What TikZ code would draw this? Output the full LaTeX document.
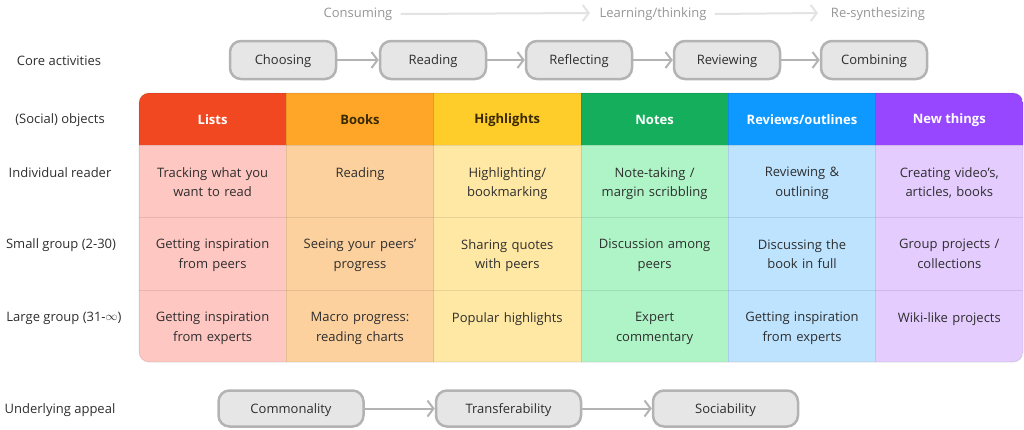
\documentclass[tikz,border=0pt]{standalone}
\usepackage{fontspec}
\setmainfont{Open Sans}
\usetikzlibrary{arrows.meta}
\definecolor{txt}{HTML}{2E2E2E}
\definecolor{toptxt}{HTML}{969696}
\definecolor{topline}{HTML}{E3E3E3}
\definecolor{boxfill}{HTML}{E6E6E6}
\definecolor{boxline}{HTML}{B3B3B3}
\definecolor{hA}{HTML}{F24822}\definecolor{bA}{HTML}{FFC7C2}
\definecolor{hB}{HTML}{FFA629}\definecolor{bB}{HTML}{FCD19E}
\definecolor{hC}{HTML}{FFCD29}\definecolor{bC}{HTML}{FFE8A3}
\definecolor{hD}{HTML}{14AE5C}\definecolor{bD}{HTML}{AFF4C6}
\definecolor{hE}{HTML}{0D99FF}\definecolor{bE}{HTML}{BDE3FF}
\definecolor{hF}{HTML}{9747FF}\definecolor{bF}{HTML}{E4CCFF}
\definecolor{darkhead}{HTML}{3A2A00}
\begin{document}
\begin{tikzpicture}[x=1pt,y=-1pt,
  every node/.style={font=\fontsize{13}{19.6}\selectfont, text=txt, inner sep=0pt},
  rowlabel/.style={anchor=center, yshift=-1pt},
  toplabel/.style={text=toptxt, yshift=-1pt},
  topflow/.style={draw=topline, line width=2pt, -{Straight Barb[length=6pt,width=16pt,line width=2pt]}},
  actbox/.style={draw=boxline, fill=boxfill, line width=2.5pt, rounded corners=11pt, minimum width=106pt, minimum height=38pt, text depth=0pt, text height=9.4pt},
  appealbox/.style={actbox, minimum width=145pt, minimum height=36pt},
  flow/.style={draw=boxline, line width=2pt, -{Straight Barb[length=6pt,width=16pt,line width=2pt]}},
  head/.style={font=\fontsize{13}{15}\selectfont\bfseries, text=white, yshift=-1pt},
  cell/.style={anchor=north, align=center, text width=140pt},
  grid/.style={draw=black, draw opacity=0.09, line width=1pt}
]
\useasboundingbox (0,0) rectangle (1024,429);

% top flow
\node[toplabel] (cons) at (358,13) {Consuming};
\node[toplabel] (learn) at (653,13) {Learning/thinking};
\node[toplabel] (resyn) at (878,13) {Re-synthesizing};
\draw[topflow] (cons.east) ++(8,0) coordinate (c1) -- (590,13) coordinate (c2);
\draw[topflow] (learn.east) ++(8,0) coordinate (c3) -- (818,13) coordinate (c4);

% row labels
\node[rowlabel] (lcore) at (59,60) {Core activities};
\node[rowlabel] (lobj) at (60,119) {(Social) objects};
\node[rowlabel] (lind) at (60,172) {Individual reader};
\node[rowlabel] (lsmall) at (61,244) {Small group (2-30)};
\node[rowlabel] (llarge) at (64,317) {Large group (31-\raisebox{0.2pt}{$\infty$})};
\node[rowlabel] (lapp) at (60,409) {Underlying appeal};

% core activities
\node[actbox] (choose) at (283,60) {Choosing};
\node[actbox] (read) at (433,60) {Reading};
\node[actbox] (refl) at (579,60) {Reflecting};
\node[actbox] (rev) at (727,60) {Reviewing};
\node[actbox] (comb) at (874,60) {Combining};
\draw[flow] (choose) -- (read);
\draw[flow] (read) -- (refl);
\draw[flow] (refl) -- (rev);
\draw[flow] (rev) -- (comb);

% table
\begin{scope}
\clip[rounded corners=10pt] (139,93) rectangle (1023,362);
\foreach \c/\x in {A/139,B/286.3,C/433.6,D/581,E/728.3,F/875.6}{
  \fill[h\c] (\x,93) rectangle ++(147.4,52);
  \fill[b\c] (\x,145) rectangle ++(147.4,217);
}
\foreach \x in {286.3,433.6,581,728.3,875.6}{
  \draw[grid] (\x,93) -- (\x,362);
}
\foreach \y in {145,217.5,290}{
  \draw[grid] (139,\y) -- (1023,\y);
}
\end{scope}
\draw[grid, rounded corners=10pt] (139,93) rectangle (1023,362);

% headers
\node[head] (hlists) at (212.6,119) {Lists};
\node[head, text=darkhead] (hbooks) at (360,119) {Books};
\node[head, text=darkhead] (hhigh) at (507.3,119) {Highlights};
\node[head] (hnotes) at (654.6,119) {Notes};
\node[head] (hrev) at (802,119) {Reviews/outlines};
\node[head] (hnew) at (949.3,119) {New things};

% cells row 1
\node[cell] (a1) at (212.6,167) {Tracking what you\\want to read};
\node[cell] (b1) at (360,167) {Reading};
\node[cell] (c1x) at (507.3,167) {Highlighting/\\bookmarking};
\node[cell] (d1) at (654.6,167) {Note-taking /\\margin scribbling};
\node[cell] (e1) at (802,167) {Reviewing \&\\outlining};
\node[cell] (f1) at (949.3,167) {Creating video’s,\\articles, books};
% row 2
\node[cell] (a2) at (212.6,239) {Getting inspiration\\from peers};
\node[cell] (b2) at (360,239) {Seeing your peers’\\progress};
\node[cell] (c2x) at (507.3,239) {Sharing quotes\\with peers};
\node[cell] (d2) at (654.6,239) {Discussion among\\peers};
\node[cell] (e2) at (802,239) {Discussing the\\book in full};
\node[cell] (f2) at (949.3,239) {Group projects /\\collections};
% row 3
\node[cell] (a3) at (212.6,312) {Getting inspiration\\from experts};
\node[cell] (b3) at (360,312) {Macro progress:\\reading charts};
\node[cell] (c3x) at (507.3,312) {Popular highlights};
\node[cell] (d3) at (654.6,312) {Expert\\commentary};
\node[cell] (e3) at (802,312) {Getting inspiration\\from experts};
\node[cell] (f3) at (949.3,312) {Wiki-like projects};

% underlying appeal
\node[appealbox] (common) at (291,408.5) {Commonality};
\node[appealbox] (transf) at (508.5,408.5) {Transferability};
\node[appealbox] (soc) at (725.5,408.5) {Sociability};
\draw[flow] (common) -- (transf);
\draw[flow] (transf) -- (soc);
\end{tikzpicture}
\end{document}
